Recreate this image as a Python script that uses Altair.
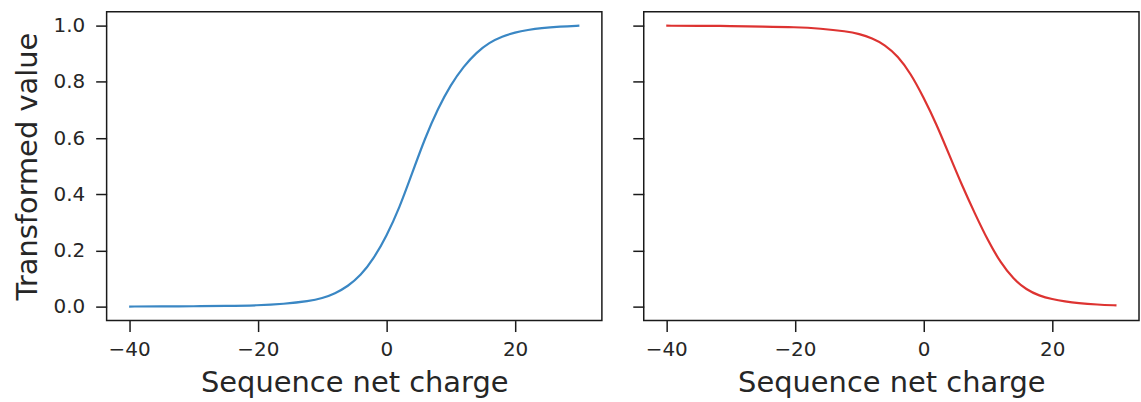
import altair as alt
import pandas as pd

# Sequence net charge (x) and read-off transformed values
charge = [-40, -35, -30, -25, -20, -16, -12, -10, -8, -6, -4, -2, 0, 2, 4, 6, 8,
          10, 12, 14, 16, 18, 20, 22, 24, 27, 30]
rising = [0.0, 0.0005, 0.001, 0.002, 0.004, 0.009, 0.019, 0.029, 0.046, 0.072, 0.11,
          0.17, 0.25, 0.35, 0.475, 0.60, 0.705, 0.79, 0.855, 0.905, 0.94, 0.962,
          0.976, 0.985, 0.992, 0.997, 1.0]
falling = [1.0, 0.9995, 0.999, 0.997, 0.995, 0.99, 0.98, 0.971, 0.956, 0.932, 0.892,
           0.83, 0.745, 0.65, 0.54, 0.43, 0.33, 0.235, 0.155, 0.097, 0.06, 0.038,
           0.026, 0.018, 0.012, 0.007, 0.004]

x_ticks = [-40, -20, 0, 20]
y_ticks = [0.0, 0.2, 0.4, 0.6, 0.8, 1.0]

df_left = pd.DataFrame({"charge": charge, "value": rising})
df_right = pd.DataFrame({"charge": charge, "value": falling})

W, H = 497, 310

x_enc = alt.X("charge:Q",
              scale=alt.Scale(domain=[-43.5, 33.5], nice=False, zero=False),
              axis=alt.Axis(values=x_ticks, format="d", title="Sequence net charge",
                            labelPadding=8, titlePadding=9))


def panel(df, color, show_y):
    if show_y:
        yax = alt.Axis(values=y_ticks, format=".1f", title="Transformed value",
                       labelPadding=11, titlePadding=11)
    else:
        yax = alt.Axis(values=y_ticks, labels=False, title=None)
    return alt.Chart(df).mark_line(color=color, strokeWidth=2.2,
                                   interpolate="basis").encode(
        x=x_enc,
        y=alt.Y("value:Q", scale=alt.Scale(domain=[-0.05, 1.05], nice=False, zero=False),
                axis=yax),
    ).properties(width=W, height=H)


left = panel(df_left, "#3a87c4", True)
right = panel(df_right, "#dd3331", False)

chart = alt.hconcat(left, right, spacing=28).properties(
    padding={"left": 12, "top": 10, "right": 1, "bottom": 0},
    background="white",
).configure_view(
    stroke="#1a1a1a", strokeWidth=1.5
).configure_axis(
    domain=False, grid=False,
    tickColor="#1a1a1a", tickWidth=1.5, tickSize=11,
    labelFont="DejaVu Sans", labelFontSize=20, labelColor="#262626",
    titleFont="DejaVu Sans", titleFontSize=29, titleFontWeight="normal",
    titleColor="#262626",
)

chart.save("out.html", embed_options={"renderer": "svg", "actions": False})
